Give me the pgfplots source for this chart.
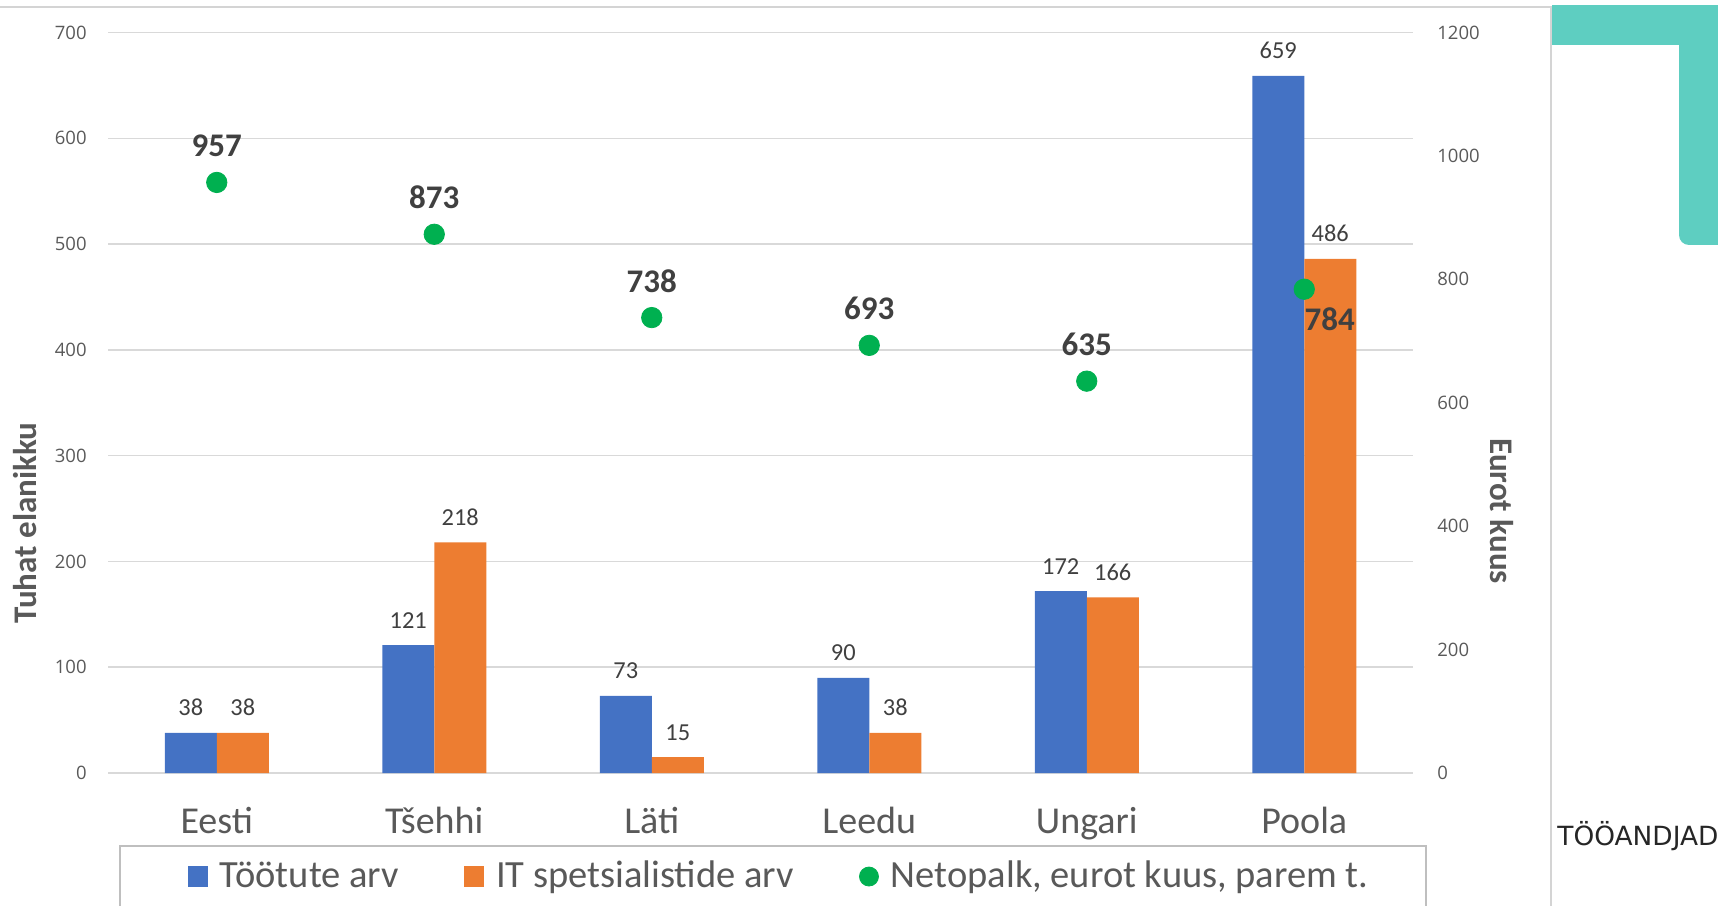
\documentclass[border=0pt]{standalone}
\usepackage{fontspec}
\setmainfont{Carlito}
\newfontfamily\osans{Open Sans}
\newfontfamily\dejavu{DejaVu Sans}
\usepackage{pgfplots}
\pgfplotsset{compat=1.18}
\definecolor{barblue}{HTML}{4472C4}
\definecolor{barorange}{HTML}{ED7D31}
\definecolor{dotgreen}{HTML}{00B050}
\definecolor{gridgray}{HTML}{D9D9D9}
\definecolor{txtdark}{HTML}{404040}
\definecolor{txtmid}{HTML}{595959}
\definecolor{tealc}{HTML}{5ECEC1}
\definecolor{framegray}{HTML}{D4D4D4}
\definecolor{legframe}{HTML}{BFBFBF}
\begin{document}
\begin{tikzpicture}
\useasboundingbox (0,0) rectangle (859pt,452.5pt);
% decorations
\fill[tealc] (776pt,430pt) rectangle (870pt,450pt);
\fill[tealc, rounded corners=5pt] (839.5pt,330pt) rectangle (870pt,445pt);
\draw[framegray, line width=1pt] (0,449pt) -- (775.5pt,449pt) -- (775.5pt,-5pt);
\node[anchor=base west, inner sep=0pt, font=\dejavu\fontsize{13.2}{13.2}\selectfont, text=black!85] at (778.5pt,30pt) {TÖÖANDJAD};
\draw[legframe, line width=0.9pt] (60pt,-6pt) rectangle (713pt,29.5pt);

\begin{axis}[
  at={(54pt,66pt)}, anchor=south west,
  scale only axis, width=652.5pt, height=370.25pt,
  xmin=-0.5, xmax=5.5, ymin=0, ymax=700,
  xtick={0,1,2,3,4,5},
  xticklabels={Eesti,Tšehhi,Läti,Leedu,Ungari,Poola},
  ytick={0,100,...,700},
  ymajorgrids, grid style={gridgray, line width=0.75pt},
  axis line style={draw=none}, major tick length=0pt, tick style={draw=none},
  /pgf/number format/assume math mode=true,
  /pgf/number format/1000 sep={},
  yticklabel style={anchor=east, inner sep=0pt, xshift=-10.5pt, font=\osans\fontsize{9.25}{9.25}\selectfont, text=txtmid},
  xticklabel style={anchor=base, inner sep=0pt, yshift=-30pt, font=\fontsize{19}{19}\selectfont, text=txtmid},
  ybar=0pt, bar width=26pt,
  nodes near coords,
  every node near coord/.append style={anchor=base, inner sep=0pt, yshift=8.5pt, font=\fontsize{12.2}{12.2}\selectfont, text=txtdark},
  clip=false,
  legend columns=3,
  legend style={at={(0.0613,-0.154)}, anchor=south west, draw=none, fill=none, inner sep=0pt, outer sep=0pt,
     nodes={inner sep=0pt, text height=10.5pt, text depth=0pt, anchor=base west, font=\fontsize{19.25}{19.25}\selectfont, text=txtmid},
     cells={anchor=base west},
     /tikz/every odd column/.style={column sep=6pt},
     /tikz/every even column/.style={column sep=32.5pt}},
]
\addplot[fill=barblue, draw=none,
  legend image code/.code={\fill[barblue] (0pt,0pt) rectangle (10pt,10.5pt);}]
  coordinates {(0,38) (1,121) (2,73) (3,90) (4,172) (5,659)};
\addlegendentry{Töötute arv}
\addplot[fill=barorange, draw=none,
  legend image code/.code={\fill[barorange] (0pt,0pt) rectangle (10pt,10.5pt);}]
  coordinates {(0,38) (1,218) (2,15) (3,38) (4,166) (5,486)};
\addlegendentry{IT spetsialistide arv}
\addlegendimage{legend image code/.code={\fill[dotgreen] (4.75pt,5.25pt) circle[radius=4.75pt];}}
\addlegendentry{Netopalk, eurot kuus, parem t.}
\end{axis}

\begin{axis}[
  at={(54pt,66pt)}, anchor=south west,
  scale only axis, width=652.5pt, height=370.25pt,
  xmin=-0.5, xmax=5.5, ymin=0, ymax=1200,
  axis y line*=right, axis x line=none,
  ytick={0,200,...,1200},
  axis line style={draw=none}, major tick length=0pt, tick style={draw=none},
  /pgf/number format/assume math mode=true,
  /pgf/number format/1000 sep={},
  yticklabel style={anchor=west, inner sep=0pt, xshift=12pt, font=\osans\fontsize{9.25}{9.25}\selectfont, text=txtmid},
  clip=false,
]
\addplot[only marks, mark=*, mark size=5.1pt, color=dotgreen, mark options={draw=none, fill=dotgreen},
  nodes near coords,
  nodes near coords style={anchor=base, inner sep=0pt, yshift=12.75pt, font=\bfseries\fontsize{16.5}{16.5}\selectfont, text=txtdark}]
  coordinates {(0,957) (1,873) (2,738) (3,693) (4,635)};
\addplot[only marks, mark=*, mark size=5.1pt, color=dotgreen, mark options={draw=none, fill=dotgreen},
  nodes near coords,
  nodes near coords style={anchor=base west, inner sep=0pt, yshift=-20.5pt, font=\bfseries\fontsize{16.5}{16.5}\selectfont, text=txtdark}]
  coordinates {(5,784)};
\end{axis}

\node[rotate=90, anchor=base, inner sep=0pt, font=\bfseries\fontsize{16.5}{16.5}\selectfont, text=txtmid] at (18.35pt,191pt) {Tuhat elanikku};
\node[rotate=-90, anchor=base, inner sep=0pt, font=\bfseries\fontsize{16.5}{16.5}\selectfont, text=txtmid] at (745pt,197pt) {Eurot kuus};
\end{tikzpicture}
\end{document}
